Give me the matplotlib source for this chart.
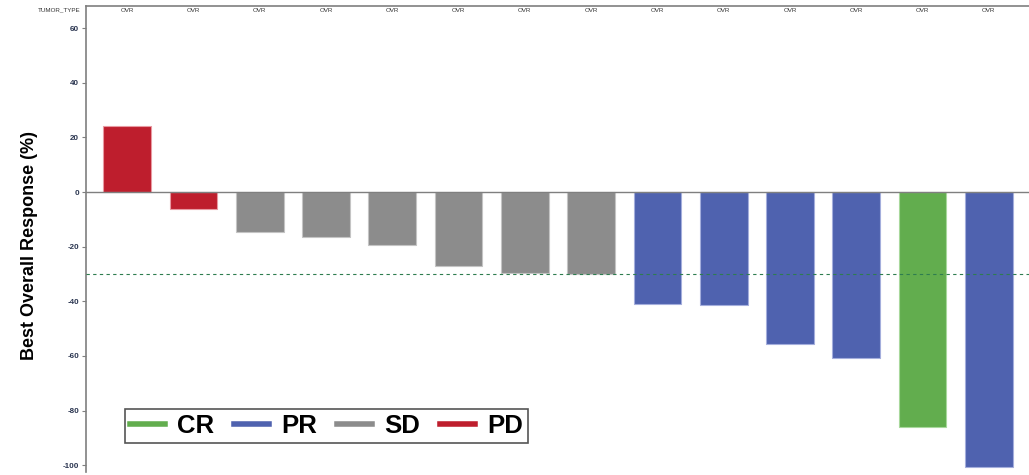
import numpy as np
import matplotlib.pyplot as plt
from matplotlib.lines import Line2D

plt.rcParams['font.family'] = ['Liberation Sans', 'DejaVu Sans']

# best overall response per patient (%)
response = [24.1, -6.2, -14.6, -16.5, -19.4, -27.1, -29.6, -30.0,
            -41.0, -41.3, -55.6, -60.7, -86.0, -100.5]
status = ['PD', 'PD', 'SD', 'SD', 'SD', 'SD', 'SD', 'SD',
          'PR', 'PR', 'PR', 'PR', 'CR', 'PR']
tumor = ['OVR'] * 14
yticks = [60, 40, 20, 0, -20, -40, -60, -80, -100]

colors = {'CR': '#62AD4E', 'PR': '#4F62AF', 'SD': '#8C8C8C', 'PD': '#BE1E2D'}
edges = {'CR': '#A8D89C', 'PR': '#A4AEDC', 'SD': '#C4C4C4', 'PD': '#E89AA2'}

fig = plt.figure(figsize=(10.29, 4.75), dpi=100)
ax = fig.add_axes([0.0836, 0.006, 0.916, 0.981])

x = np.arange(len(response))
ax.bar(x, response, width=0.72,
       color=[colors[s] for s in status],
       edgecolor=[edges[s] for s in status], linewidth=0.8, zorder=2)

ax.axhline(0, color='#7F7F7F', lw=1.0, zorder=3)
ax.axhline(-30, color='#2E7D4F', lw=0.8, ls=(0, (3, 3)), zorder=3)

ax.set_xlim(-0.62, 13.6)
ax.set_ylim(-102.5, 68)
ax.set_xticks([])
ax.set_yticks(yticks)
ax.set_yticklabels([str(t) for t in yticks], fontsize=5.8,
                   fontweight='bold', color='#2A3550')
ax.tick_params(axis='y', length=3, width=0.8, color='#7F7F7F', pad=2)

for s in ['right', 'bottom']:
    ax.spines[s].set_visible(False)
for s in ['left', 'top']:
    ax.spines[s].set_color('#7F7F7F')
    ax.spines[s].set_linewidth(1.2)

# tumor type row
for i, t in enumerate(tumor):
    ax.text(i, 66.5, t, ha='center', va='center', fontsize=4.5, color='#333333')
fig.text(0.078, 0.979, 'TUMOR_TYPE', ha='right', va='center',
         fontsize=4.5, color='#333333')

fig.text(0.029, 0.484, 'Best Overall Response (%)', rotation=90,
         ha='center', va='center', fontsize=13, fontweight='bold')

handles = [Line2D([0], [0], color=colors[k], lw=4) for k in ['CR', 'PR', 'SD', 'PD']]
leg = ax.legend(handles, ['CR', 'PR', 'SD', 'PD'], loc='lower left',
                bbox_to_anchor=(0.0414, 0.062), ncol=4, fancybox=False,
                prop={'weight': 'bold', 'size': 18.5}, handlelength=1.36,
                columnspacing=0.8, handletextpad=0.45, borderpad=0.2,
                borderaxespad=0, framealpha=1)
leg.get_frame().set_edgecolor('#555555')
leg.get_frame().set_linewidth(1.2)

plt.savefig('out.png', dpi=100)
